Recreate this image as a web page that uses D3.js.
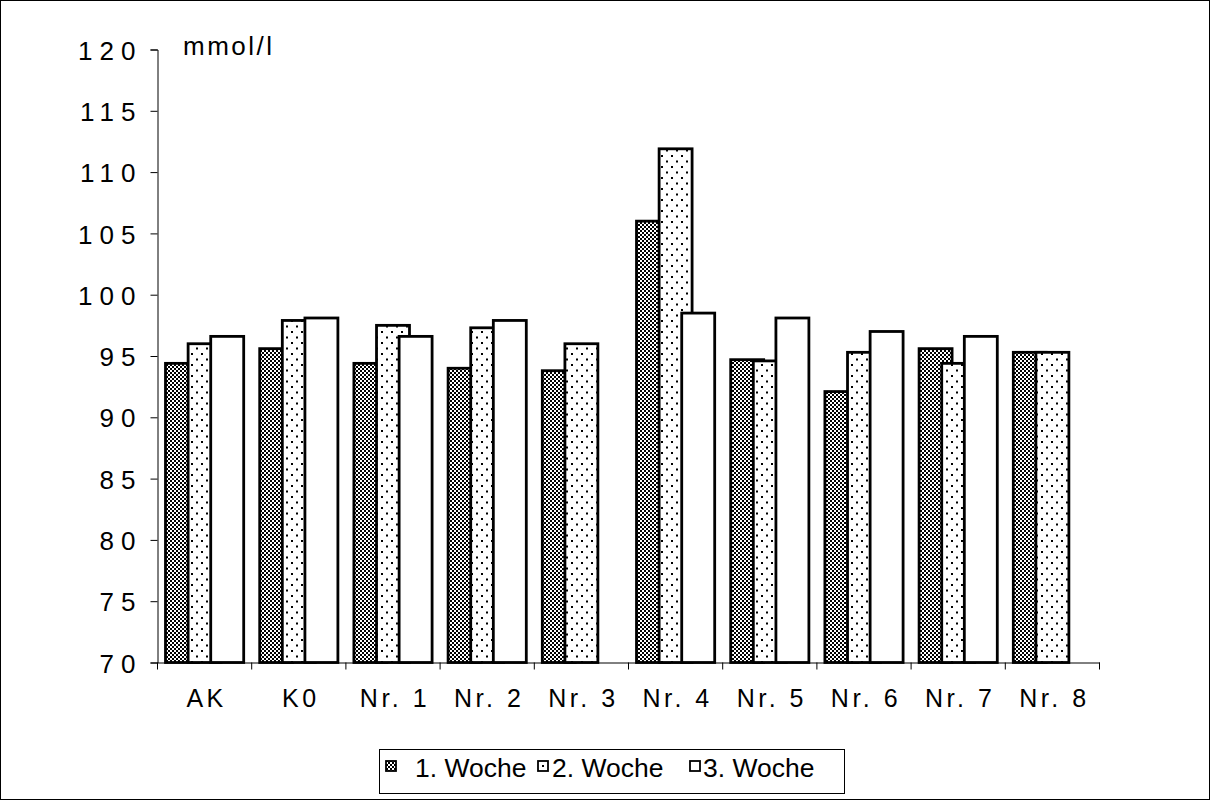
<!DOCTYPE html>
<html>
<head>
<meta charset="utf-8">
<script src="https://cdn.jsdelivr.net/npm/d3@7"></script>
<style>
  html, body { margin: 0; padding: 0; background: #fff; }
  svg { display: block; }
  text { font-family: "Liberation Sans", Arial, sans-serif; fill: #000; }
</style>
</head>
<body>
<svg id="chart" width="1210" height="800"></svg>
<script>
// Weekly measurements (mmol/l) per group
const categories = ["AK", "K0", "Nr. 1", "Nr. 2", "Nr. 3", "Nr. 4", "Nr. 5", "Nr. 6", "Nr. 7", "Nr. 8"];
const seriesNames = ["1. Woche", "2. Woche", "3. Woche"];
const woche1 = [94.4, 95.6, 94.4, 94.0, 93.8, 106.0, 94.7, 92.1, 95.6, 95.3];
const woche2 = [96.0, 97.9, 97.5, 97.3, 96.0, 111.9, 94.6, 95.3, 94.4, 95.3];
const woche3 = [96.6, 98.1, 96.6, 97.9, null, 98.5, 98.1, 97.0, 96.6, null];
const yTicks = [70, 75, 80, 85, 90, 95, 100, 105, 110, 115, 120];
const unitLabel = "mmol/l";

const seriesValues = [woche1, woche2, woche3];
const fills = ["url(#checker)", "url(#dots)", "#fff"];

const svg = d3.select("#chart");

// Fill patterns
const defs = svg.append("defs");
const checker = defs.append("pattern")
  .attr("id", "checker").attr("patternUnits", "userSpaceOnUse")
  .attr("width", 4).attr("height", 4);
checker.append("rect").attr("width", 4).attr("height", 4).attr("fill", "#000");
checker.append("rect").attr("x", 0).attr("y", 0).attr("width", 2).attr("height", 2).attr("fill", "#fff");
checker.append("rect").attr("x", 2).attr("y", 2).attr("width", 2).attr("height", 2).attr("fill", "#fff");

const dots = defs.append("pattern")
  .attr("id", "dots").attr("patternUnits", "userSpaceOnUse")
  .attr("width", 10).attr("height", 11);
dots.append("rect").attr("width", 10).attr("height", 11).attr("fill", "#fff");
dots.append("rect").attr("x", 1).attr("y", 1).attr("width", 2).attr("height", 2).attr("fill", "#000");
dots.append("rect").attr("x", 6).attr("y", 6.5).attr("width", 2).attr("height", 2).attr("fill", "#000");

// Outer frame
svg.append("rect")
  .attr("x", 0.5).attr("y", 0.5).attr("width", 1209).attr("height", 799)
  .attr("fill", "none").attr("stroke", "#000").attr("stroke-width", 1);

const plot = { left: 157.5, right: 1099.5, top: 49.5, bottom: 662.5 };

const x = d3.scaleBand()
  .domain(categories)
  .range([plot.left, plot.right])
  .paddingInner(0).paddingOuter(0);

const y = d3.scaleLinear()
  .domain([70, 120])
  .range([plot.bottom, plot.top]);

// Bars: overlapping columns inside each category
const bw = x.bandwidth();
const barW = bw * 0.35;
const step = bw * 0.24;
const groupOffset = (bw - (barW + 2 * step)) / 2;

const barsG = svg.append("g");
seriesValues.forEach((vals, si) => {
  barsG.append("g")
    .selectAll("rect")
    .data(categories.map((c, i) => ({ c, v: vals[i] })).filter(d => d.v != null))
    .join("rect")
    .attr("x", d => x(d.c) + groupOffset + si * step)
    .attr("y", d => y(d.v))
    .attr("width", barW)
    .attr("height", d => y(70) - y(d.v))
    .attr("fill", fills[si])
    .attr("stroke", "#000")
    .attr("stroke-width", 2.8);
});

// Y axis
const yAxis = d3.axisLeft(y).tickValues(yTicks).tickSize(7).tickPadding(15);
const yG = svg.append("g")
  .attr("transform", `translate(${plot.left},0)`)
  .call(yAxis);
yG.select(".domain").attr("stroke", "#000").attr("stroke-width", 1);
yG.selectAll(".tick line").attr("stroke", "#000");
yG.selectAll(".tick text")
  .attr("font-size", 26)
  .attr("letter-spacing", 7)
  .attr("dx", 7)
  .attr("dy", "0.37em")
  .style("font-family", '"Liberation Sans", Arial, sans-serif')
  .attr("fill", "#000");

// X axis
const xAxis = d3.axisBottom(x).tickSize(0).tickPadding(0).tickFormat(() => "");
const xG = svg.append("g")
  .attr("transform", `translate(0,${plot.bottom})`)
  .call(xAxis);
xG.select(".domain").attr("stroke", "#000").attr("stroke-width", 1);
// category boundary tick marks
xG.selectAll("line.sep")
  .data(categories.concat(["__end"]))
  .join("line")
  .attr("class", "sep")
  .attr("x1", (d, i) => plot.left + i * bw)
  .attr("x2", (d, i) => plot.left + i * bw)
  .attr("y1", 0).attr("y2", 7)
  .attr("stroke", "#000");
xG.selectAll("text.cat")
  .data(categories)
  .join("text")
  .attr("class", "cat")
  .attr("x", d => x(d) + bw / 2 + 2)
  .attr("y", 44)
  .attr("text-anchor", "middle")
  .attr("font-size", 25)
  .attr("letter-spacing", 3.5)
  .text(d => d);

// Unit label
svg.append("text")
  .attr("x", 183).attr("y", 55)
  .attr("font-size", 26)
  .attr("letter-spacing", 2.5)
  .text(unitLabel);

// Legend
const legend = svg.append("g");
legend.append("rect")
  .attr("x", 379.5).attr("y", 749.5).attr("width", 465).attr("height", 44)
  .attr("fill", "#fff").attr("stroke", "#000").attr("stroke-width", 1);
const legendSymX = [386, 538, 690];
const legendTextX = [415, 552, 703];
seriesNames.forEach((name, si) => {
  legend.append("rect")
    .attr("x", legendSymX[si]).attr("y", 761)
    .attr("width", 10).attr("height", 10)
    .attr("fill", si === 1 ? "#fff" : fills[si])
    .attr("stroke", "#000").attr("stroke-width", 1.8);
  if (si === 1) {
    legend.append("rect")
      .attr("x", legendSymX[si] + 4).attr("y", 765)
      .attr("width", 2).attr("height", 2).attr("fill", "#000");
  }
  legend.append("text")
    .attr("x", legendTextX[si]).attr("y", 777)
    .attr("font-size", 26.5)
    .text(name);
});
</script>
</body>
</html>
